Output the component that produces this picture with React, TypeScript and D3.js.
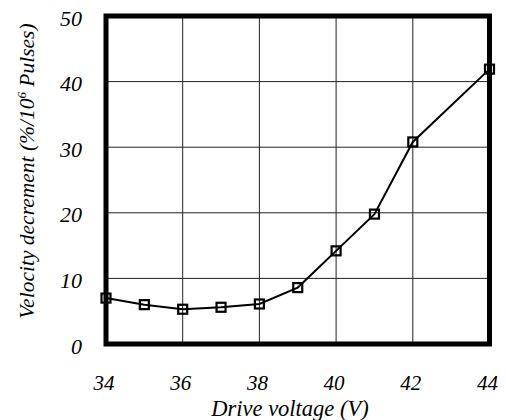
import React from "react";
import * as d3 from "d3";

const voltages = [34, 35, 36, 37, 38, 39, 40, 41, 42, 44];
const decrement = [7.0, 6.0, 5.3, 5.6, 6.1, 8.6, 14.2, 19.8, 30.8, 41.9];
const xTicks = [34, 36, 38, 40, 42, 44];
const yTicks = [0, 10, 20, 30, 40, 50];

const W = 506;
const H = 420;
const left = 106, right = 489.5, top = 16, bottom = 344;

const App = () => {
  const x = d3.scaleLinear().domain([34, 44]).range([left, right]);
  const y = d3.scaleLinear().domain([0, 50]).range([bottom, top]);

  const pts = voltages.map((v, i) => [v, decrement[i]] as [number, number]);
  const path = d3.line<[number, number]>()
    .x(d => x(d[0]))
    .y(d => y(d[1]))(pts);

  const font = "'Liberation Serif', 'Times New Roman', serif";

  return (
    <svg width={W} height={H} style={{ position: "absolute", left: 0, top: 0, background: "#fff" }}>
      {/* grid */}
      {xTicks.map(t => (
        <line key={"gx" + t} x1={x(t)} x2={x(t)} y1={top} y2={bottom} stroke="#222" strokeWidth={1} />
      ))}
      {yTicks.map(t => (
        <line key={"gy" + t} x1={left} x2={right} y1={y(t)} y2={y(t)} stroke="#222" strokeWidth={1} />
      ))}
      {/* frame */}
      <rect x={left} y={top} width={right - left} height={bottom - top} fill="none" stroke="#000" strokeWidth={5} />

      {/* series */}
      <path d={path ?? ""} fill="none" stroke="#000" strokeWidth={2} />
      {pts.map((d, i) => (
        <rect key={i} x={x(d[0]) - 4.5} y={y(d[1]) - 4.5} width={9} height={9}
          fill="none" stroke="#000" strokeWidth={2.2} />
      ))}

      {/* tick labels */}
      {yTicks.map(t => (
        <text key={"ly" + t} x={82} y={y(t) + 9.5} textAnchor="end" fontFamily={font}
          fontStyle="italic" fontSize={22}>{t}</text>
      ))}
      {xTicks.map(t => (
        <text key={"lx" + t} x={x(t) - 2} y={390} textAnchor="middle" fontFamily={font}
          fontStyle="italic" fontSize={21}>{t}</text>
      ))}

      {/* titles */}
      <text x={290} y={416} textAnchor="middle" fontFamily={font} fontStyle="italic" fontSize={22.5}>
        Drive voltage (V)
      </text>
      <text transform="translate(34,171) rotate(-90)" textAnchor="middle" fontFamily={font}
        fontStyle="italic" fontSize={21.5}>
        Velocity decrement (%/10<tspan dy={-8} fontSize={13}>6</tspan><tspan dy={8}> Pulses)</tspan>
      </text>
    </svg>
  );
};

export default App;
